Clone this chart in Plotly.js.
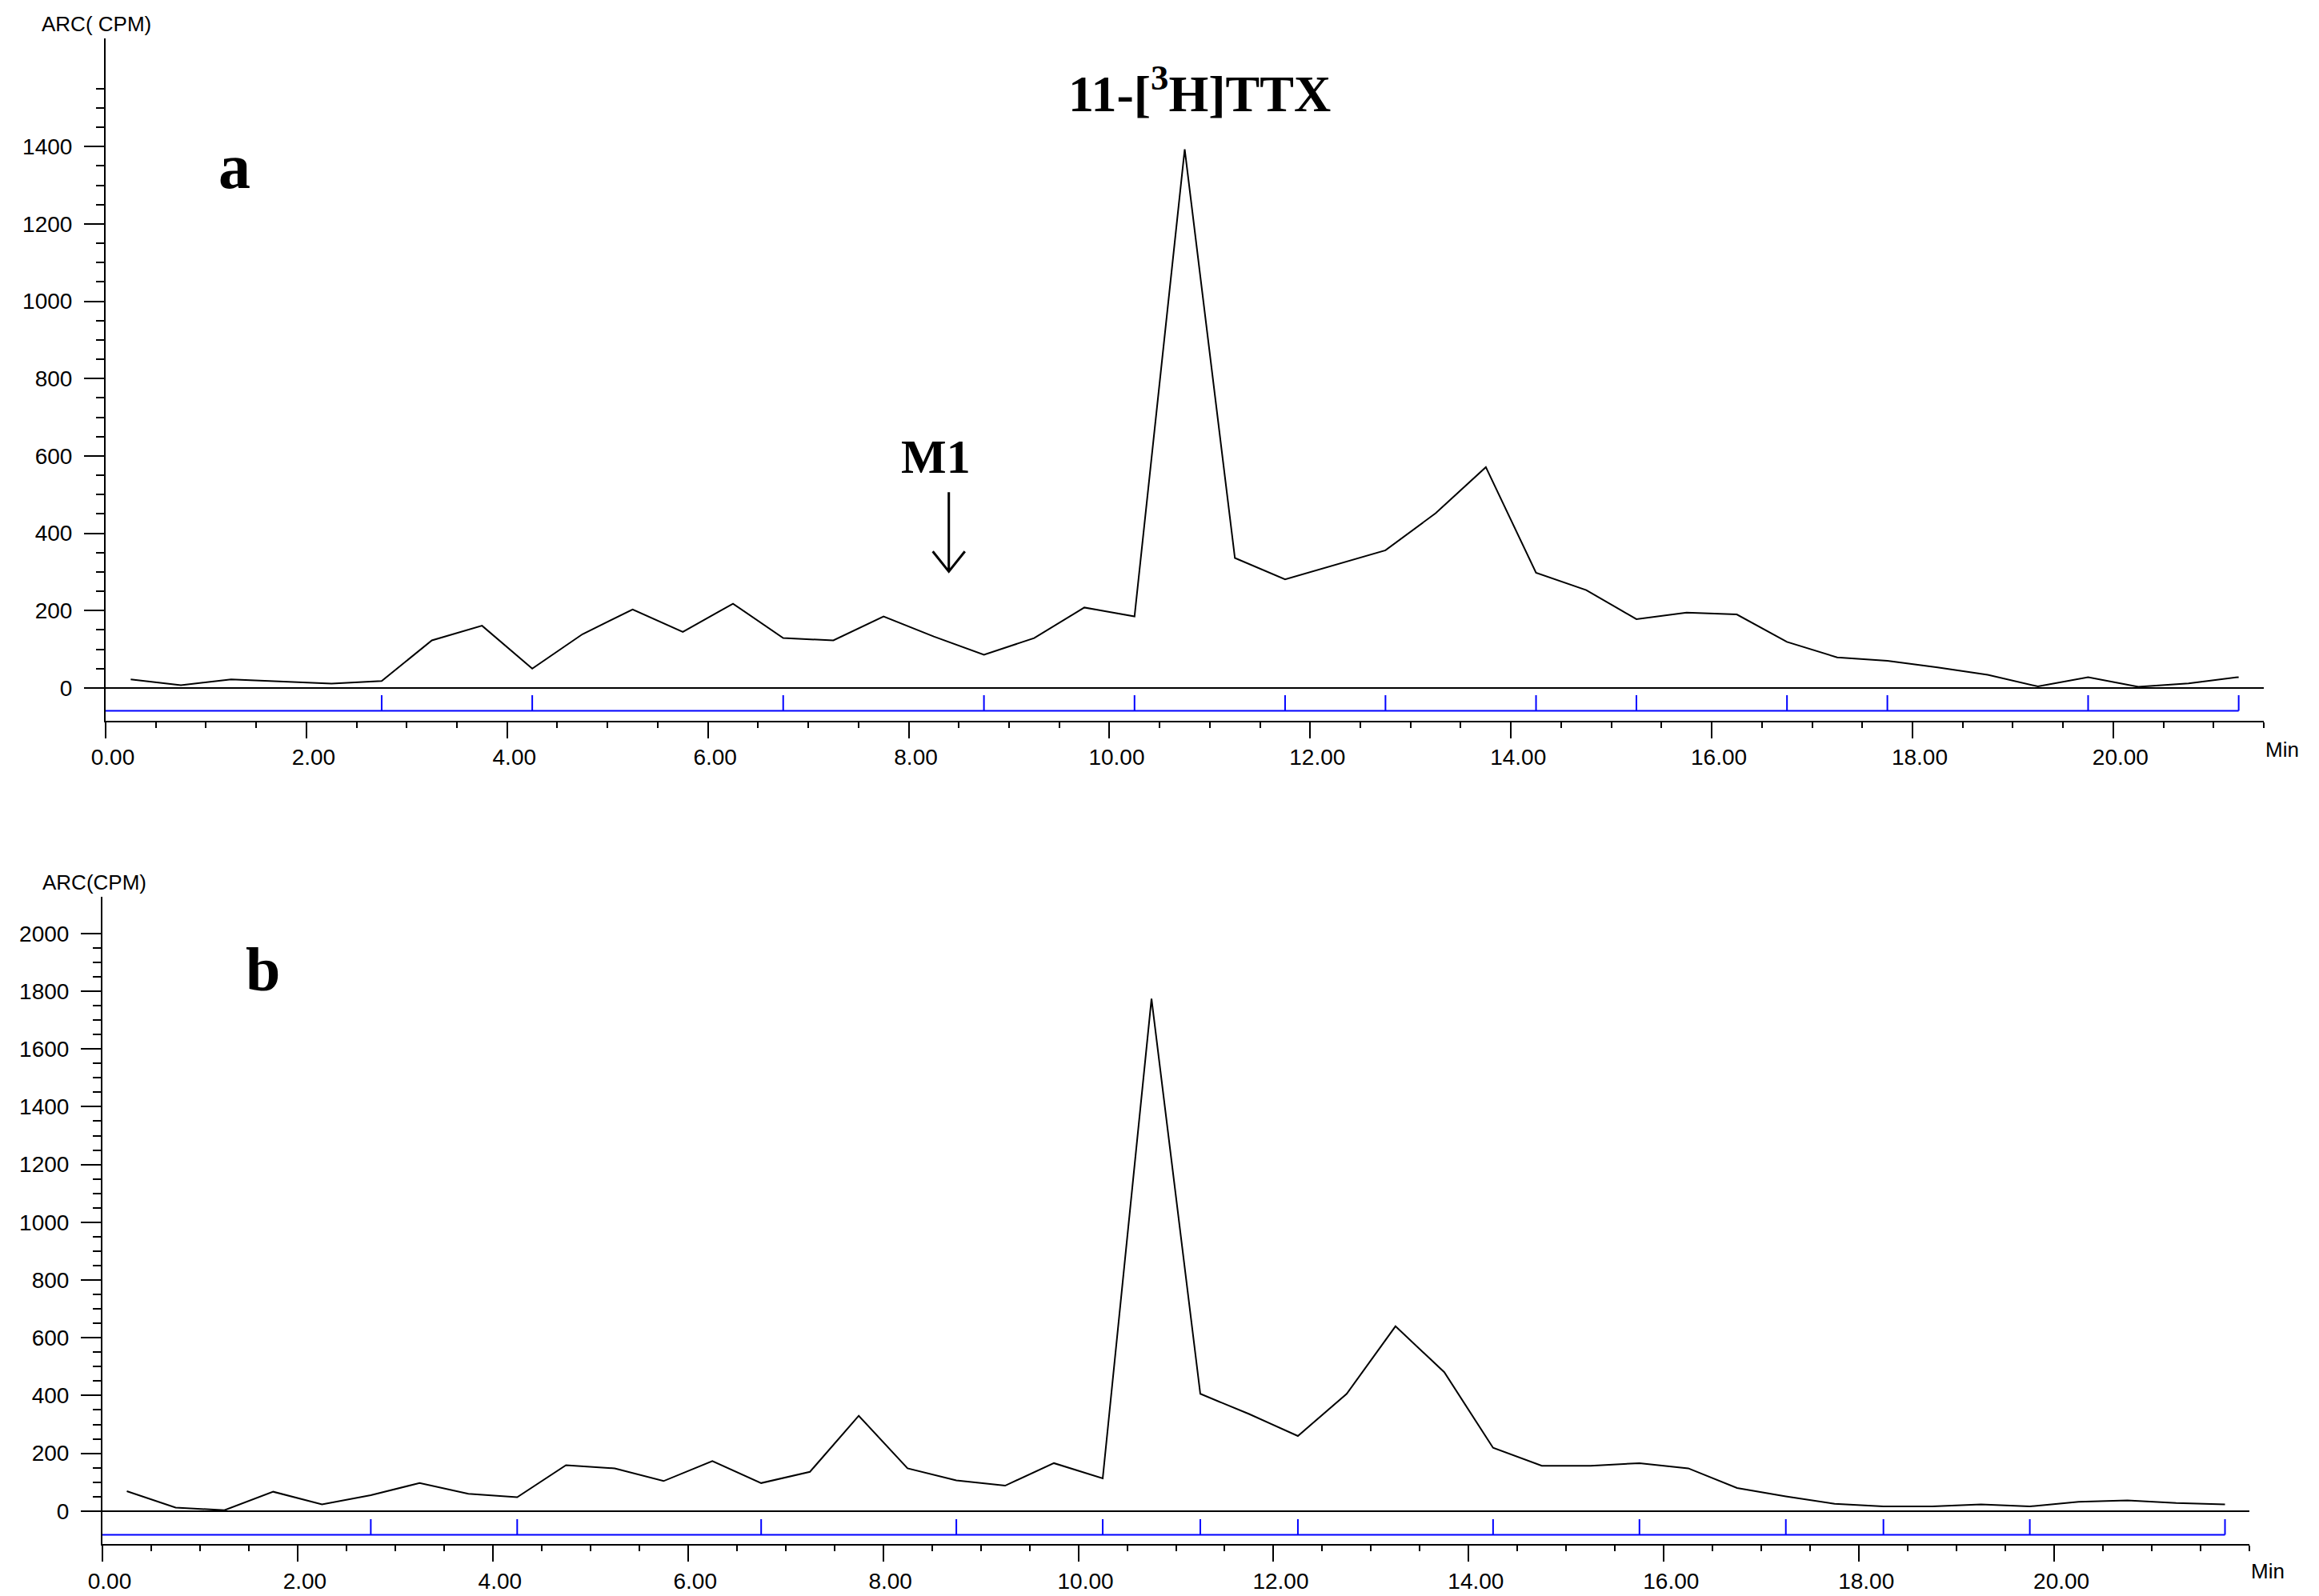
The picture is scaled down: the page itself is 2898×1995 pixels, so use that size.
<!DOCTYPE html>
<html>
<head>
<meta charset="utf-8">
<script src="https://cdn.plot.ly/plotly-3.0.1.min.js"></script>
<style>
  html, body { margin: 0; padding: 0; background: #fff; }
  #chart { width: 2898px; height: 1995px; }
</style>
</head>
<body>
<div id="chart"></div>
<script>
// Radio-HPLC traces, ARC(CPM) vs retention time (min)
const timeA = [0.25, 0.75, 1.25, 1.75, 2.25, 2.75, 3.25, 3.75, 4.25, 4.75, 5.25, 5.75, 6.25, 6.75,
    7.25, 7.75, 8.25, 8.75, 9.25, 9.75, 10.25, 10.75, 11.25, 11.75, 12.25, 12.75, 13.25, 13.75,
    14.25, 14.75, 15.25, 15.75, 16.25, 16.75, 17.25, 17.75, 18.25, 18.75, 19.25, 19.75, 20.25,
    20.75, 21.25];
const cpmA = [22, 7, 22, 17, 11, 18, 123, 161, 50, 139, 203, 145, 218, 129,
    123, 185, 133, 86, 129, 208, 185, 1393, 336, 281, 318, 356, 452, 571,
    298, 253, 178, 195, 190, 119, 79, 70, 53, 34, 4, 28, 3,
    12, 28];

const timeB = [0.25, 0.75, 1.25, 1.75, 2.25, 2.75, 3.25, 3.75, 4.25, 4.75, 5.25, 5.75, 6.25, 6.75,
    7.25, 7.75, 8.25, 8.75, 9.25, 9.75, 10.25, 10.75, 11.25, 11.75, 12.25, 12.75, 13.25, 13.75,
    14.25, 14.75, 15.25, 15.75, 16.25, 16.75, 17.25, 17.75, 18.25, 18.75, 19.25, 19.75, 20.25,
    20.75, 21.25, 21.75];
const cpmB = [69, 12, 3, 67, 23, 55, 97, 60, 48, 159, 148, 104, 173, 97,
    136, 330, 148, 106, 88, 166, 113, 1774, 406, 336, 260, 406, 640, 481,
    219, 157, 157, 166, 148, 80, 51, 25, 16, 16, 23, 16, 32,
    37, 28, 23];

// blue fraction markers under each trace
const fracA = [2.75, 4.25, 6.75, 8.75, 10.25, 11.75, 12.75, 14.25, 15.25, 16.75, 17.75, 19.75, 21.25];
const fracB = [2.75, 4.25, 6.75, 8.75, 10.25, 11.25, 12.25, 14.25, 15.75, 17.25, 18.25, 19.75, 21.75];

const yTicksA = [0, 200, 400, 600, 800, 1000, 1200, 1400];
const yTicksB = [0, 200, 400, 600, 800, 1000, 1200, 1400, 1600, 1800, 2000];
const xTicks = [0, 2, 4, 6, 8, 10, 12, 14, 16, 18, 20];

const BLACK = '#000000';
const BLUE = '#0000ff';
const SANS = 'Liberation Sans, Arial, sans-serif';
const SERIF = 'Liberation Serif, Times New Roman, serif';

function fractionTrace(marks, base, top, xa, ya) {
    const xs = [0, marks[marks.length - 1], null];
    const ys = [base, base, null];
    marks.forEach(m => {
        xs.push(m, m, null);
        ys.push(base, top, null);
    });
    return {
        x: xs, y: ys, xaxis: xa, yaxis: ya,
        type: 'scatter', mode: 'lines',
        line: { color: BLUE, width: 2 },
        hoverinfo: 'skip', showlegend: false
    };
}

function minorVals(step, from, to) {
    const out = [];
    for (let v = from; v <= to; v += step) out.push(v);
    return out;
}

const traces = [
    {
        x: timeA, y: cpmA, xaxis: 'x', yaxis: 'y',
        type: 'scatter', mode: 'lines',
        line: { color: BLACK, width: 2 }, showlegend: false
    },
    {
        x: timeB, y: cpmB, xaxis: 'x2', yaxis: 'y2',
        type: 'scatter', mode: 'lines',
        line: { color: BLACK, width: 2 }, showlegend: false
    },
    fractionTrace(fracA, -59, -19, 'x', 'y'),
    fractionTrace(fracB, -82, -28, 'x2', 'y2')
];

function xAxis(domain, range, anchor) {
    return {
        domain: domain, range: range, anchor: anchor,
        showline: true, linecolor: BLACK, linewidth: 2,
        showgrid: false, zeroline: false,
        ticks: 'outside', ticklen: 20, tickwidth: 2, tickcolor: BLACK,
        tickmode: 'array', tickvals: xTicks,
        ticktext: xTicks.map(v => v.toFixed(2)),
        ticklabelshift: 9,
        tickfont: { family: SANS, size: 28, color: BLACK },
        minor: { dtick: 0.5, tick0: 0, ticks: 'outside', ticklen: 7, tickwidth: 2, tickcolor: BLACK }
    };
}

function yAxis(domain, range, anchor, tickvals, minor) {
    return {
        domain: domain, range: range, anchor: anchor,
        showline: true, linecolor: BLACK, linewidth: 2,
        showgrid: false,
        zeroline: true, zerolinecolor: BLACK, zerolinewidth: 2,
        ticks: 'outside', ticklen: 25, tickwidth: 2, tickcolor: BLACK,
        tickmode: 'array', tickvals: tickvals,
        ticklabelstandoff: 9,
        tickfont: { family: SANS, size: 28, color: BLACK },
        minor: { tickmode: 'array', tickvals: minor, ticks: 'outside', ticklen: 10, tickwidth: 2, tickcolor: BLACK }
    };
}

function label(text, x, y, opts) {
    return Object.assign({
        text: text, xref: 'paper', yref: 'paper', x: x, y: y,
        xanchor: 'center', yanchor: 'middle', showarrow: false,
        font: { family: SANS, size: 26, color: BLACK }
    }, opts || {});
}

const layout = {
    width: 2898, height: 1995,
    margin: { l: 0, r: 0, t: 0, b: 0 },
    paper_bgcolor: '#ffffff', plot_bgcolor: '#ffffff',
    showlegend: false,
    xaxis: xAxis([0.04555, 0.97619], [0, 21.5], 'y'),
    yaxis: yAxis([0.5486, 0.976], [-84, 1680], 'x', yTicksA, minorVals(50, 50, 1550)),
    xaxis2: xAxis([0.04417, 0.96998], [0, 22], 'y2'),
    yaxis2: yAxis([0.03258, 0.4383], [-114, 2128], 'x2', yTicksB, minorVals(50, 50, 1950)),
    annotations: [
        label('ARC( CPM)', 120 / 2898, 1 - 30 / 1995),
        label('ARC(CPM)', 118 / 2898, 1 - 1103 / 1995),
        label('Min', 0.9762, 1 - 937 / 1995, { xanchor: 'left' }),
        label('Min', 0.9700, 1 - 1964 / 1995, { xanchor: 'left' }),
        { text: '<b>a</b>', xref: 'x', yref: 'y', x: 1.28, y: 1348,
          xanchor: 'center', yanchor: 'middle',
          showarrow: false, font: { family: SERIF, size: 80, color: BLACK } },
        { text: '<b>b</b>', xref: 'x2', yref: 'y2', x: 1.64, y: 1875,
          xanchor: 'center', yanchor: 'middle',
          showarrow: false, font: { family: SERIF, size: 78, color: BLACK } },
        { text: '<b>11-[<sup>3</sup>H]TTX</b>', xref: 'x', yref: 'y', x: 10.9, y: 1547,
          xanchor: 'center', yanchor: 'middle',
          showarrow: false, font: { family: SERIF, size: 64, color: BLACK } },
        { text: '<b>M1</b>', xref: 'x', yref: 'y', x: 8.27, y: 597,
          xanchor: 'center', yanchor: 'middle',
          showarrow: false, font: { family: SERIF, size: 60, color: BLACK } }
    ],
    shapes: [
        // open arrow pointing to M1
        { type: 'path', xref: 'x', yref: 'y',
          path: 'M 8.40,506 L 8.40,301 M 8.24,353 L 8.40,301 L 8.56,353',
          line: { color: BLACK, width: 3 } }
    ]
};

Plotly.newPlot('chart', traces, layout, { staticPlot: true });
</script>
</body>
</html>
